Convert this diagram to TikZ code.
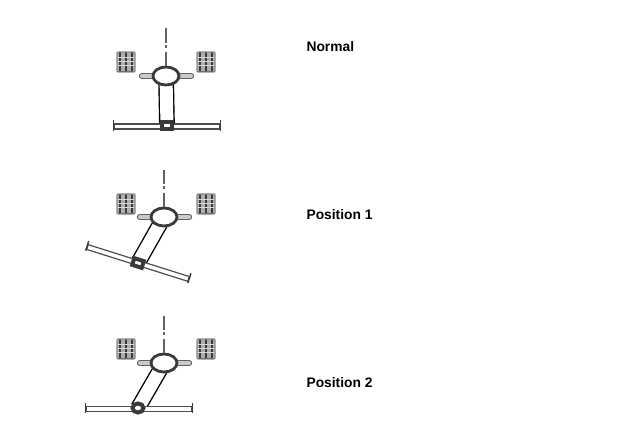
\documentclass[tikz,border=0pt]{standalone}
\usepackage{fontspec}
\setmainfont{Liberation Sans}
\usetikzlibrary{shapes.geometric,positioning,backgrounds}

\definecolor{inkdark}{HTML}{3A3A3A}
\definecolor{inkmid}{HTML}{8A8A8A}

\begin{document}
\begin{tikzpicture}[x=1pt,y=-1pt,line width=1.1pt,draw=inkdark,
		title/.style={font=\bfseries\fontsize{13.8}{16}\selectfont,text=black,anchor=west,inner sep=0pt},
		hub/.style={ellipse,draw,line width=2.8pt,fill=white,minimum width=26pt,minimum height=18pt,inner sep=0pt},
		wheel/.style={draw=inkmid,fill=inkmid!70,minimum width=18pt,minimum height=20pt,inner sep=0pt,rounded corners=1pt,
			path picture={
				\foreach \u in {-6,0,6} \draw[inkdark,line width=1.6pt] ([xshift=\u pt]path picture bounding box.north) -- ([xshift=\u pt]path picture bounding box.south);
				\foreach \v in {-4,0,4} \draw[white!85!black,line width=1pt] ([yshift=\v pt]path picture bounding box.west) -- ([yshift=\v pt]path picture bounding box.east);
				\draw[inkdark,line width=1.5pt] (path picture bounding box.south west) -- (path picture bounding box.south east);
			}},
		bar/.style={draw=inkdark!90,line width=1.2pt,fill=white,minimum width=106pt,minimum height=5pt,inner sep=0pt},
		pivot/.style={draw,line width=4pt,fill=white,minimum width=10pt,minimum height=7pt,inner sep=0pt},
		arm/.style={double=white,double distance=13pt,line width=1.4pt},
		stub/.style={double=inkmid!45,double distance=4pt,line width=1.2pt,line cap=round,draw=inkdark!80},
		barend/.style={line width=1.4pt,shorten <=-3pt,shorten >=-1pt},
		axis/.style={line width=1.6pt,draw=inkdark!80}]
		\useasboundingbox (0,0) rectangle (629,435);
		
		% normal
		\coordinate (stubl1) at (142,76);
		\coordinate (stubr1) at (191,76);
		\draw[stub] (stubl1) -- (stubr1);
		\node[wheel] (wheell1) at (126,62) {};
		\node[wheel] (wheelr1) at (206,62) {};
		\node[bar] (bar1) at (167,126.5) {};
		\draw[barend] (bar1.north west) -- (bar1.south west);
		\draw[barend] (bar1.north east) -- (bar1.south east);
		\node[hub] (hub1) at (166,76) {};
		\node[pivot] (pivot1) at (167,126) {};
		\begin{scope}[on background layer]
			\draw[arm] (hub1.center) -- (pivot1.center);
		\end{scope}
		\coordinate (axa1) at (166,28);
		\coordinate (axb1) at (166,43);
		\coordinate (axc1) at (166,45);
		\coordinate (axd1) at (166,48);
		\coordinate (axe1) at (166,52);
		\draw[axis] (axa1) -- (axb1);
		\draw[axis] (axc1) -- (axd1);
		\draw[axis] (axe1) -- (hub1);
		\node[title] (normal) at (306,46.5) {Normal};
		
		% position 1
		\coordinate (stubl2) at (140,217);
		\coordinate (stubr2) at (189,217);
		\draw[stub] (stubl2) -- (stubr2);
		\node[wheel] (wheell2) at (126,204) {};
		\node[wheel] (wheelr2) at (206,204) {};
		\node[bar,rotate=-17.5] (bar2) at (138,263) {};
		\draw[barend] (bar2.north west) -- (bar2.south west);
		\draw[barend] (bar2.north east) -- (bar2.south east);
		\node[hub] (hub2) at (164,217) {};
		\node[pivot,rotate=-17.5] (pivot2) at (138,263) {};
		\begin{scope}[on background layer]
			\draw[arm] (hub2.center) -- (pivot2.center);
		\end{scope}
		\coordinate (axa2) at (164,170);
		\coordinate (axb2) at (164,184);
		\coordinate (axc2) at (164,186);
		\coordinate (axd2) at (164,189);
		\coordinate (axe2) at (164,193);
		\draw[axis] (axa2) -- (axb2);
		\draw[axis] (axc2) -- (axd2);
		\draw[axis] (axe2) -- (hub2);
		\node[title] (pos1) at (306,214.5) {Position 1};
		
		% position 2
		\coordinate (stubl3) at (140,363);
		\coordinate (stubr3) at (189,363);
		\draw[stub] (stubl3) -- (stubr3);
		\node[wheel] (wheell3) at (126,349) {};
		\node[wheel] (wheelr3) at (206,349) {};
		\node[bar] (bar3) at (139,409) {};
		\draw[barend] (bar3.north west) -- (bar3.south west);
		\draw[barend] (bar3.north east) -- (bar3.south east);
		\node[hub] (hub3) at (164,363) {};
		\node[pivot,ellipse,minimum width=11pt,minimum height=9pt] (pivot3) at (138,408) {};
		\begin{scope}[on background layer]
			\draw[arm] (hub3.center) -- (pivot3.center);
		\end{scope}
		\coordinate (axa3) at (164,316);
		\coordinate (axb3) at (164,330);
		\coordinate (axc3) at (164,332);
		\coordinate (axd3) at (164,335);
		\coordinate (axe3) at (164,339);
		\draw[axis] (axa3) -- (axb3);
		\draw[axis] (axc3) -- (axd3);
		\draw[axis] (axe3) -- (hub3);
		\node[title] (pos2) at (306,382.5) {Position 2};
\end{tikzpicture}
\end{document}
